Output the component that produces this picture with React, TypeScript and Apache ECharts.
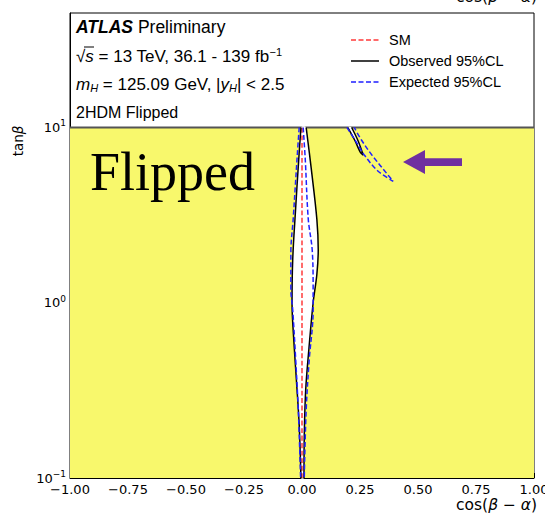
import React, { useEffect, useRef } from 'react';
import * as echarts from 'echarts';

// ---- data ----
const xTickStep = 0.25;
const yMajorTicks = [0.1, 1, 10];
const yMinorTicks = [0.2, 0.3, 0.4, 0.5, 0.6, 0.7, 0.8, 0.9, 2, 3, 4, 5, 6, 7, 8, 9];
const excludedRegion = [[-1, 0.1, 1, 10]];
const smLine = [[0, 0.1], [0, 10]];
const observedLeft = [
  [-0.0045, 10], [-0.014, 6.6], [-0.029, 3.19], [-0.04, 1.76], [-0.043, 1.0],
  [-0.035, 0.6], [-0.024, 0.36], [-0.012, 0.2], [-0.0045, 0.1],
];
const observedRight = [
  [0.018, 10], [0.04, 5.8], [0.064, 3.0], [0.07, 2.0], [0.064, 1.45], [0.048, 1.0],
  [0.03, 0.55], [0.016, 0.32], [0.01, 0.18], [0.0085, 0.1],
];
const observedUpper = [
  [0.197, 10], [0.229, 8.37], [0.251, 7.24], [0.264, 6.95], [0.242, 8.37], [0.214, 10],
];
const expectedLeft = [
  [-0.012, 10], [-0.02, 7.05], [-0.029, 4.6], [-0.038, 3.0], [-0.048, 1.94], [-0.048, 1.19],
  [-0.04, 0.91], [-0.027, 0.47], [-0.016, 0.244], [-0.006, 0.1],
];
const expectedRight = [
  [0.005, 10], [0.014, 6.6], [0.027, 3.0], [0.044, 2.0], [0.048, 1.19], [0.048, 0.91],
  [0.031, 0.47], [0.018, 0.244], [0.0097, 0.1],
];
const expectedUpper = [
  [0.194, 10], [0.234, 8.26], [0.272, 6.87], [0.328, 5.63], [0.393, 4.93], [0.371, 5.35],
  [0.302, 6.95], [0.259, 8.37], [0.225, 10],
];
const legendNames = ['SM', 'Observed 95%CL', 'Expected 95%CL'];

const YELLOW = '#f8f86c';
const RED = '#ff3a3a';
const BLUE = '#1f1fff';
const DASH = [5, 2.5];

const fmtX = (v: number) => (v < 0 ? '\u2212' : '') + Math.abs(v).toFixed(2);
const fmtY = (v: number) => {
  const e = Math.round(Math.log10(v));
  return `{b|10}{s|${e < 0 ? '\u2212' + -e : e}}`;
};

const polygonSeries = (pts: number[][], fill: string) => ({
  type: 'custom',
  coordinateSystem: 'cartesian2d',
  data: pts,
  encode: { x: 0, y: 1 },
  silent: true,
  renderItem: (params: any, api: any) => {
    if (params.dataIndex !== 0) return null;
    const p = pts.map((d) => api.coord(d));
    return {
      type: 'polygon',
      shape: { points: p, smooth: 0.35 },
      style: { fill, stroke: 'none' },
    };
  },
});

export default function App() {
  const ref = useRef<HTMLDivElement>(null);
  useEffect(() => {
    if (!ref.current) return;
    const chart = echarts.init(ref.current, undefined, { renderer: 'svg' });
    const lineS = (name: string, data: number[][], color: string, dashed: boolean, w = 1.5) => ({
      type: 'line',
      name,
      data,
      symbol: 'none',
      smooth: 0.35,
      silent: true,
      lineStyle: { color, width: w, type: dashed ? DASH : 'solid' },
      itemStyle: { color },
    });
    const txt = { fontFamily: 'Liberation Sans', color: '#000' };
    const dv = { fontFamily: 'DejaVu Sans', color: '#000' };
    const legendStyles = [
      { color: RED, dash: true },
      { color: '#000', dash: false },
      { color: BLUE, dash: true },
    ];
    const legendY = [40, 61, 82];
    const legendGraphics: any[] = [];
    legendNames.forEach((n, i) => {
      const s = legendStyles[i];
      legendGraphics.push({
        type: 'line', z: 100,
        shape: { x1: 351, y1: legendY[i], x2: 379, y2: legendY[i] },
        style: { stroke: s.color, lineWidth: 1.5, lineDash: s.dash ? DASH : null },
      });
      legendGraphics.push({
        type: 'text', z: 100, x: 389, y: legendY[i],
        style: { text: n, verticalAlign: 'middle', align: 'left', fontFamily: 'Liberation Sans', fontSize: 14.5, fill: '#000' },
      });
    });
    const option: any = {
      animation: false,
      backgroundColor: '#fff',
      grid: {
        left: 70, right: 11, top: 13, bottom: 36,
        show: true, borderColor: '#000', borderWidth: 1, backgroundColor: 'transparent',
        containLabel: false, outerBoundsMode: 'none',
      },
      xAxis: {
        type: 'value',
        min: -1,
        max: 1,
        interval: xTickStep,
        axisLine: { show: true, onZero: false, lineStyle: { color: '#000', width: 1 } },
        axisTick: { show: true, inside: true, length: 5, lineStyle: { color: '#000' } },
        minorTick: { show: true, splitNumber: 5, length: 3, lineStyle: { color: '#000' } },
        splitLine: { show: false },
        axisLabel: { formatter: fmtX, margin: 5, fontSize: 13, ...dv },
      },
      yAxis: [
        {
          type: 'log', logBase: 10, min: 0.1, max: 45, position: 'left',
          axisLine: { show: true, onZero: false, lineStyle: { color: '#000', width: 1 } },
          axisTick: { show: true, inside: true, length: 5, customValues: yMajorTicks, lineStyle: { color: '#000' } },
          axisLabel: {
            customValues: yMajorTicks, formatter: fmtY, margin: 4,
            rich: {
              b: { fontSize: 13, ...dv },
              s: { fontSize: 9, ...dv, padding: [0, 0, 8, 0] },
            },
          },
          splitLine: { show: false },
          minorTick: { show: false },
        },
        {
          type: 'log', logBase: 10, min: 0.1, max: 45, position: 'left',
          axisLine: { show: false, onZero: false },
          axisTick: { show: true, inside: true, length: 3, customValues: yMinorTicks, lineStyle: { color: '#000' } },
          axisLabel: { show: false },
          splitLine: { show: false },
        },
      ],
      series: [
        {
          type: 'custom',
          coordinateSystem: 'cartesian2d',
          data: excludedRegion,
          encode: { x: [0, 2], y: [1, 3] },
          silent: true,
          renderItem: (params: any, api: any) => {
            const a = api.coord([api.value(0), api.value(1)]);
            const b = api.coord([api.value(2), api.value(3)]);
            return {
              type: 'group',
              children: [
                { type: 'rect', shape: { x: a[0], y: b[1], width: b[0] - a[0], height: a[1] - b[1] }, style: { fill: YELLOW } },
                { type: 'line', shape: { x1: a[0], y1: b[1], x2: b[0], y2: b[1] }, style: { stroke: '#555', lineWidth: 2 } },
              ],
            };
          },
        },
        polygonSeries([...observedLeft, ...observedRight.slice().reverse()], '#fff'),
        polygonSeries(observedUpper, '#fff'),
        lineS('SM', smLine, RED, true),
        lineS('Observed 95%CL', observedLeft, '#000', false),
        lineS('Observed 95%CL', observedRight, '#000', false),
        lineS('Observed 95%CL', observedUpper, '#000', false),
        lineS('Expected 95%CL', expectedLeft, BLUE, true),
        lineS('Expected 95%CL', expectedRight, BLUE, true),
        lineS('Expected 95%CL', expectedUpper, BLUE, true),
      ],
      graphic: [
        ...legendGraphics,
        {
          type: 'text', x: 76, y: 27, z: 100,
          style: {
            text: '{a|ATLAS}{p| Preliminary}', verticalAlign: 'middle', align: 'left',
            rich: {
              a: { ...txt, fontSize: 17.5, fontWeight: 'bold', fontStyle: 'italic' },
              p: { ...txt, fontSize: 17.5 },
            },
          },
        },
        {
          type: 'text', x: 76, y: 56, z: 100,
          style: {
            text: '{r|\u221a}{i|s}{r| = 13 TeV, 36.1 - 139 fb}{sup|\u22121}', verticalAlign: 'middle', align: 'left',
            rich: {
              r: { ...txt, fontSize: 17 },
              i: { ...txt, fontSize: 17, fontStyle: 'italic' },
              sup: { ...txt, fontSize: 11, padding: [0, 0, 9, 0] },
            },
          },
        },
        { type: 'line', z: 100, shape: { x1: 84, y1: 47, x2: 94, y2: 47 }, style: { stroke: '#000', lineWidth: 1 } },
        {
          type: 'text', x: 76, y: 84, z: 100,
          style: {
            text: '{i|m}{sub|H}{r| = 125.09 GeV, |}{i|y}{sub|H}{r|| < 2.5}', verticalAlign: 'middle', align: 'left',
            rich: {
              r: { ...txt, fontSize: 17 },
              i: { ...txt, fontSize: 17, fontStyle: 'italic' },
              sub: { ...txt, fontSize: 11, fontStyle: 'italic', padding: [8, 0, 0, 0] },
            },
          },
        },
        {
          type: 'text', x: 76, y: 112, z: 100,
          style: { text: '2HDM Flipped', verticalAlign: 'middle', align: 'left', ...txt, fontSize: 16 },
        },
        {
          type: 'text', x: 90, y: 172, z: 100,
          style: { text: 'Flipped', verticalAlign: 'middle', align: 'left', fontFamily: 'Liberation Serif', fontSize: 54, fill: '#000' },
        },
        {
          type: 'polygon', z: 100,
          shape: { points: [[403, 162], [425, 150], [425, 158.3], [462, 158.3], [462, 166], [425, 166], [425, 174]] },
          style: { fill: '#7030a0' },
        },
        {
          type: 'text', x: 18, y: 141, rotation: Math.PI / 2, z: 100,
          style: {
            text: '{r|tan}{i|\u03b2}', align: 'center', verticalAlign: 'middle',
            rich: { r: { ...dv, fontSize: 13.5 }, i: { ...dv, fontSize: 13.5, fontStyle: 'italic' } },
          },
        },
        {
          type: 'text', x: 456, y: 505, z: 100,
          style: {
            text: '{r|cos(}{i|\u03b2}{r| \u2212 }{i|\u03b1}{r|)}', align: 'left', verticalAlign: 'middle',
            rich: { r: { ...dv, fontSize: 15.5 }, i: { ...dv, fontSize: 15.5, fontStyle: 'italic' } },
          },
        },
        {
          type: 'text', x: 456, y: -3, z: 100,
          style: {
            text: '{r|cos(}{i|\u03b2}{r| \u2212 }{i|\u03b1}{r|)}', align: 'left', verticalAlign: 'middle',
            rich: { r: { ...dv, fontSize: 15.5 }, i: { ...dv, fontSize: 15.5, fontStyle: 'italic' } },
          },
        },
      ],
    };
    chart.setOption(option);
    return () => chart.dispose();
  }, []);
  return <div ref={ref} style={{ position: 'fixed', left: 0, top: 0, width: 545, height: 514 }} />;
}
